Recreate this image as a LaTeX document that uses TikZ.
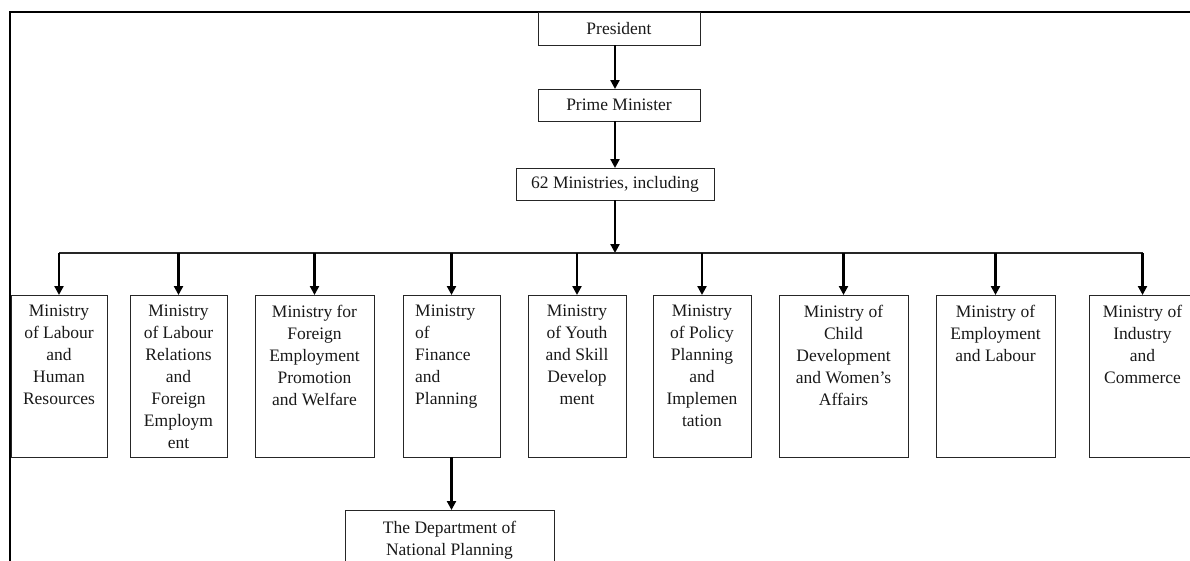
\documentclass[tikz,border=0pt]{standalone}
\usepackage{fontspec}
\setmainfont{Liberation Serif}
\usetikzlibrary{arrows.meta}
\begin{document}
\begin{tikzpicture}[x=1pt,y=-1pt,
  box/.style={draw=black!85, line width=0.9pt, inner sep=0pt, outer sep=0pt, anchor=north west},
  headbox/.style={box, font=\fontsize{17.5}{22}\selectfont, text=black!90},
  txt/.style={font=\fontsize{17.5}{22}\selectfont, text=black!90, align=center, inner sep=0pt, anchor=north},
  arr/.style={line width=2.2pt, -{Triangle[length=9pt,width=9pt]}},
  bus/.style={line width=1.1pt, draw=black!85}]
\clip (0,0) rectangle (1190,560);
\useasboundingbox (0,0) rectangle (1190,560);

% outer frame (left and top edges)
\draw[line width=2pt] (10,580) -- (10,12) -- (1200,12);

% top of the hierarchy
\node[headbox, minimum width=162pt, minimum height=33pt] (pres) at (538,12) {President};
\node[headbox, minimum width=162pt, minimum height=32pt] (pm) at (538,89) {Prime Minister};
\node[headbox, minimum width=198pt, minimum height=32pt] (m62) at (516,168) {62 Ministries, including};
\coordinate (j) at (615,253);

\draw[arr] (pres.south -| j) -- (pm.north -| j);
\draw[arr] (pm.south -| j) -- (m62.north -| j);
\draw[arr] (m62.south -| j) -- (j);

% ministries
\node[box, minimum width=96pt,  minimum height=162pt] (m1) at (11,295) {};
\node[box, minimum width=97pt,  minimum height=162pt] (m2) at (130,295) {};
\node[box, minimum width=119pt, minimum height=162pt] (m3) at (255,295) {};
\node[box, minimum width=97pt,  minimum height=162pt] (m4) at (403,295) {};
\node[box, minimum width=98pt,  minimum height=162pt] (m5) at (528,295) {};
\node[box, minimum width=98pt,  minimum height=162pt] (m6) at (653,295) {};
\node[box, minimum width=129pt, minimum height=162pt] (m7) at (779,295) {};
\node[box, minimum width=119pt, minimum height=162pt] (m8) at (936,295) {};
\node[box, minimum width=107pt, minimum height=162pt] (m9) at (1089,295) {};

\node[txt] at ([yshift=-10pt]m1.north) {Ministry\\of Labour\\and\\Human\\Resources};
\node[txt] at ([yshift=-10pt]m2.north) {Ministry\\of Labour\\Relations\\and\\Foreign\\Employm\\ent};
\node[txt] at ([yshift=-10pt]m3.north) {Ministry for\\Foreign\\Employment\\Promotion\\and Welfare};
\node[txt, align=left, anchor=north west] at ([xshift=12pt,yshift=-10pt]m4.north west) {Ministry\\of\\Finance\\and\\Planning};
\node[txt] at ([yshift=-10pt]m5.north) {Ministry\\of Youth\\and Skill\\Develop\\ment};
\node[txt] at ([yshift=-10pt]m6.north) {Ministry\\of Policy\\Planning\\and\\Implemen\\tation};
\node[txt] at ([yshift=-10pt]m7.north) {Ministry of\\Child\\Development\\and Women’s\\Affairs};
\node[txt] at ([yshift=-10pt]m8.north) {Ministry of\\Employment\\and Labour};
\node[txt] at ([yshift=-10pt]m9.north) {Ministry of\\Industry\\and\\Commerce};

% distribution bus and drops
\draw[bus] (m1.north |- j) -- (m9.north |- j);
\foreach \m in {m1,m2,m3,m4,m5,m6,m7,m8,m9}
  \draw[arr] (\m.north |- j) -- (\m.north);

% department under finance
\node[box, minimum width=209pt, minimum height=70pt] (dep) at (345,510) {};
\node[txt] at ([yshift=-11pt]dep.north) {The Department of\\National Planning};
\draw[arr] (m4.south) -- (m4.south |- dep.north);
\end{tikzpicture}
\end{document}
